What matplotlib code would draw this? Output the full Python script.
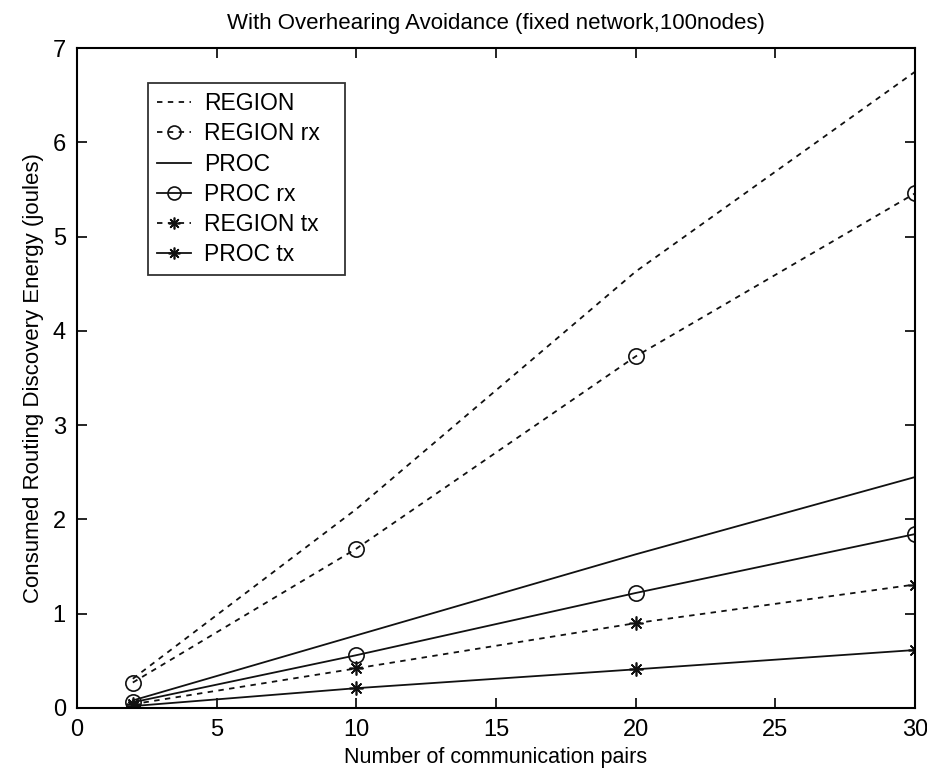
import matplotlib
matplotlib.use("Agg")
import matplotlib.pyplot as plt

plt.rcParams["font.family"] = ["Liberation Sans", "DejaVu Sans"]

pairs = [2, 10, 20, 30]
region_rx = [0.27, 1.69, 3.73, 5.46]
region_tx = [0.04, 0.42, 0.90, 1.31]
proc_rx = [0.06, 0.56, 1.22, 1.845]
proc_tx = [0.02, 0.21, 0.41, 0.615]
region_total = [0.31, 2.11, 4.63, 6.75]
proc_total = [0.08, 0.77, 1.63, 2.45]

title = "With Overhearing Avoidance (fixed network,100nodes)"
xlabel = "Number of communication pairs"
ylabel = "Consumed Routing Discovery Energy (joules)"

fig = plt.figure(figsize=(9.27, 7.78), dpi=100)
ax = fig.add_axes([0.083, 0.090, 0.904, 0.848])

dash = (0, (3, 3))
star = (8, 2, 0)
lw = 1.3
col = "#111111"

ax.plot(pairs, region_total, color=col, lw=lw, linestyle=dash, label="REGION")
ax.plot(pairs, region_rx, color=col, lw=lw, linestyle=dash, marker="o", ms=11,
        mfc="none", mec=col, mew=1.2, label="REGION rx")
ax.plot(pairs, proc_total, color=col, lw=lw, linestyle="-", label="PROC")
ax.plot(pairs, proc_rx, color=col, lw=lw, linestyle="-", marker="o", ms=11,
        mfc="none", mec=col, mew=1.2, label="PROC rx")
ax.plot(pairs, region_tx, color=col, lw=lw, linestyle=dash, marker=star, ms=10,
        mec=col, mew=1.2, label="REGION tx")
ax.plot(pairs, proc_tx, color=col, lw=lw, linestyle="-", marker=star, ms=10,
        mec=col, mew=1.2, label="PROC tx")

ax.set_xlim(0, 30)
ax.set_ylim(0, 7)
ax.set_xticks(range(0, 31, 5))
ax.set_yticks(range(0, 8))
ax.tick_params(direction="in", top=True, right=True, length=7, width=1.2,
               labelsize=17, pad=8)
for s in ax.spines.values():
    s.set_linewidth(1.5)

ax.set_title(title, fontsize=16, pad=14)
ax.set_xlabel(xlabel, fontsize=15.5, labelpad=4)
ax.set_ylabel(ylabel, fontsize=16, labelpad=6)

leg = ax.legend(loc="upper left", bbox_to_anchor=(0.085, 0.947, 0.235, 0.0),
                mode="expand", borderaxespad=0,
                fancybox=False, edgecolor="black", fontsize=16.5, handlelength=1.45,
                labelspacing=0.31, borderpad=0.4, handletextpad=0.6,
                markerscale=0.85)
leg.get_frame().set_linewidth(1.3)

fig.savefig("out.png", dpi=100, facecolor="white")
